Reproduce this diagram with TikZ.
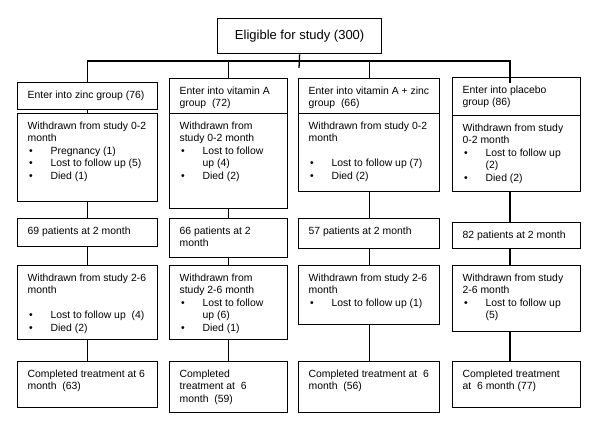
\documentclass[tikz,border=0pt]{standalone}
\usepackage{fontspec}
\setmainfont{Liberation Sans}
\tikzset{
  bx/.style={draw, line width=1.3pt, inner sep=0pt, anchor=north west},
  ln/.style={line width=1.3pt},
}
\newcommand{\bxtext}[3]{\parbox[t][#2pt][t]{#1pt}{\fontsize{10.4}{12.5}\selectfont\raggedright\leftskip=10pt\rightskip=-40pt\lineskiplimit=-20pt\rule{0pt}{15.5pt}#3}}
\newcommand{\itm}[1]{\makebox[23pt][l]{\hspace{1.5pt}•}#1}
\newcommand{\cnt}{\hspace*{23pt}}
\begin{document}
\begin{tikzpicture}[x=1pt,y=-1pt]
\useasboundingbox (0,0) rectangle (600,438);
% top
\node[bx, minimum width=164pt, minimum height=35pt] (top) at (217,18) {\fontsize{13}{15}\selectfont Eligible for study (300)};
% column 1
\node[bx] (c1e) at (17,82) {\bxtext{140}{27}{Enter into zinc group (76)}};
\node[bx] (c1w1) at (17,113) {\bxtext{140}{88}{Withdrawn from study 0-2\\ month\\ \itm{Pregnancy (1)}\\ \itm{Lost to follow up (5)}\\ \itm{Died (1)}}};
\node[bx] (c1p) at (17,218) {\bxtext{140}{28}{69 patients at 2 month}};
\node[bx] (c1w2) at (17,265) {\bxtext{140}{74}{Withdrawn from study 2-6\\ month\\[12.5pt] \itm{Lost to follow up~ (4)}\\ \itm{Died (2)}}};
\node[bx] (c1c) at (17,361) {\bxtext{140}{46}{Completed treatment at 6\\ month~ (63)}};
% column 2
\node[bx] (c2e) at (169,78) {\bxtext{118}{35}{Enter into vitamin A\\ group~ (72)}};
\node[bx] (c2w1) at (169,113) {\bxtext{118}{95}{Withdrawn from\\ study 0-2 month\\ \itm{Lost to follow}\\ \cnt up (4)\\ \itm{Died (2)}}};
\node[bx] (c2p) at (169,218) {\bxtext{118}{39}{66 patients at 2\\ month}};
\node[bx] (c2w2) at (169,265) {\bxtext{118}{74}{Withdrawn from\\ study 2-6 month\\ \itm{Lost to follow}\\ \cnt up (6)\\ \itm{Died (1)}}};
\node[bx] (c2c) at (169,361) {\bxtext{118}{51}{Completed\\ treatment at~ 6\\ month~ (59)}};
% column 3
\node[bx] (c3e) at (298,78) {\bxtext{141}{35}{Enter into vitamin A + zinc\\ group~ (66)}};
\node[bx] (c3w1) at (298,113) {\bxtext{141}{78}{Withdrawn from study 0-2\\ month\\[12.5pt] \itm{Lost to follow up (7)}\\ \itm{Died (2)}}};
\node[bx] (c3p) at (298,218) {\bxtext{141}{30}{57 patients at 2 month}};
\node[bx] (c3w2) at (298,265) {\bxtext{141}{59}{Withdrawn from study 2-6\\ month\\ \itm{Lost to follow up (1)}}};
\node[bx] (c3c) at (298,361) {\bxtext{141}{51}{Completed treatment at~ 6\\ month~ (56)}};
% column 4
\node[bx] (c4e) at (452,77) {\bxtext{128}{38}{Enter into placebo\\ group (86)}};
\node[bx] (c4w1) at (452,115) {\bxtext{128}{76}{Withdrawn from study\\ 0-2 month\\ \itm{Lost to follow up}\\ \cnt(2)\\ \itm{Died (2)}}};
\node[bx] (c4p) at (452,222) {\bxtext{128}{26}{82 patients at 2 month}};
\node[bx] (c4w2) at (452,265) {\bxtext{128}{66}{Withdrawn from study\\ 2-6 month\\ \itm{Lost to follow up}\\ \cnt(5)}};
\node[bx] (c4c) at (452,361) {\bxtext{128}{46}{Completed treatment\\ at~ 6 month (77)}};
% connectors
\coordinate (hl) at (87,61);
\coordinate (hr) at (510,61);
\coordinate (trunk) at (299,68);
\coordinate (c4tip) at (510,83);
\draw[ln] (top.south) -- (trunk);
\draw[ln] (c1e.north) |- (hr) -- (c4tip);
\draw[ln] (c2e.north) -- (c2e.north |- hl);
\draw[ln] (c3e.north) -- (c3e.north |- hl);
\draw[ln] (c1e.south) -- (c1w1.north);
\draw[ln] (c1w1.south) -- (c1p.north);
\draw[ln] (c1p.south) -- (c1w2.north);
\draw[ln] (c1w2.south) -- (c1c.north);
\draw[ln] (c2w1.south) -- (c2p.north);
\draw[ln] (c2p.south) -- (c2w2.north);
\draw[ln] (c2w2.south) -- (c2c.north);
\draw[ln] (c3w1.south) -- (c3p.north);
\draw[ln] (c3p.south) -- (c3w2.north);
\draw[ln] (c3w2.south) -- (c3c.north);
\draw[ln] (c4w1.south -| hr) -- (c4p.north -| hr);
\draw[ln] (c4p.south -| hr) -- (c4w2.north -| hr);
\draw[ln] (c4w2.south -| hr) -- (c4c.north -| hr);
\end{tikzpicture}
\end{document}
